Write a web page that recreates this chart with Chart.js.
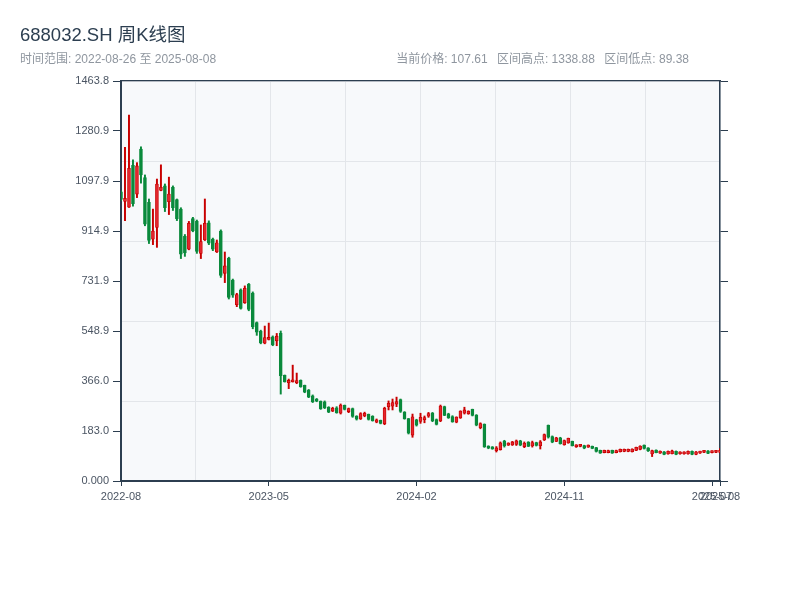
<!DOCTYPE html>
<html><head><meta charset="utf-8">
<script src="https://cdn.jsdelivr.net/npm/chart.js@4.4.1/dist/chart.umd.min.js"></script>
<style>
html,body{margin:0;padding:0;background:#fff;}
#wrap{position:relative;width:800px;height:600px;font-family:"Liberation Sans","Noto Sans CJK SC",sans-serif;}
#c{position:absolute;left:0;top:0;}
.t{position:absolute;left:20px;top:24px;font-size:18.5px;color:#2c3e50;line-height:22px;white-space:nowrap;}
.s{position:absolute;left:20px;top:52px;font-size:12px;color:#8f969f;line-height:15px;white-space:nowrap;}
.r{position:absolute;right:111px;top:52px;font-size:12px;color:#8f969f;line-height:15px;white-space:nowrap;}
.r span{margin-left:6px;}
</style></head>
<body>
<div id="wrap">
<canvas id="c" width="800" height="600"></canvas>
<div class="t">688032.SH 周K线图</div>
<div class="s">时间范围: 2022-08-26 至 2025-08-08</div>
<div class="r"><span>当前价格: 107.61</span> <span>区间高点: 1338.88</span> <span>区间低点: 89.38</span></div>
</div>
<script>
const dates = ['2022-08-26','2022-09-02','2022-09-09','2022-09-16','2022-09-23','2022-09-30','2022-10-14','2022-10-21','2022-10-28','2022-11-04','2022-11-11','2022-11-18','2022-11-25','2022-12-02','2022-12-09','2022-12-16','2022-12-23','2022-12-30',
'2023-01-06','2023-01-13','2023-01-20','2023-02-03','2023-02-10','2023-02-17','2023-02-24','2023-03-03','2023-03-10','2023-03-17','2023-03-24','2023-03-31','2023-04-07','2023-04-14','2023-04-21','2023-04-28','2023-05-05','2023-05-12','2023-05-19','2023-05-26',
'2023-06-02','2023-06-09','2023-06-16','2023-06-23','2023-06-30','2023-07-07','2023-07-14','2023-07-21','2023-07-28','2023-08-04','2023-08-11','2023-08-18','2023-08-25','2023-09-01','2023-09-08','2023-09-15','2023-09-22','2023-09-29','2023-10-13','2023-10-20','2023-10-27',
'2023-11-03','2023-11-10','2023-11-17','2023-11-24','2023-12-01','2023-12-08','2023-12-15','2023-12-22','2023-12-29',
'2024-01-05','2024-01-12','2024-01-19','2024-01-26','2024-02-02','2024-02-09','2024-02-23','2024-03-01','2024-03-08','2024-03-15','2024-03-22','2024-03-29','2024-04-05','2024-04-12','2024-04-19','2024-04-26',
'2024-05-03','2024-05-10','2024-05-17','2024-05-24','2024-05-31','2024-06-07','2024-06-14','2024-06-21','2024-06-28','2024-07-05','2024-07-12','2024-07-19','2024-07-26','2024-08-02','2024-08-09','2024-08-16','2024-08-23','2024-08-30',
'2024-09-06','2024-09-13','2024-09-20','2024-09-27','2024-10-04','2024-10-11','2024-10-18','2024-10-25','2024-11-01','2024-11-08','2024-11-15','2024-11-22','2024-11-29','2024-12-06','2024-12-13','2024-12-20','2024-12-27',
'2025-01-03','2025-01-10','2025-01-17','2025-01-24','2025-01-31','2025-02-07','2025-02-14','2025-02-21','2025-02-28','2025-03-07','2025-03-14','2025-03-21','2025-03-28','2025-04-04','2025-04-11','2025-04-18','2025-04-25',
'2025-05-02','2025-05-09','2025-05-16','2025-05-23','2025-05-30','2025-06-06','2025-06-13','2025-06-20','2025-06-27','2025-07-04','2025-07-11','2025-07-18','2025-07-25','2025-08-01','2025-08-08'];

const opens = [1058,1023,1002,1155,1050,1215,1110,1020,885,928, 1063,1080,1022,1075,1030,995,895,848,960,950, 833,882,945,885,838,915,760,815,735,645, 700,652,720,688,580,548,504,518,528,513, 540,387,360,363,360,368,350,333,312,300, 292,290,270,256,268,248,277,254,265,238, 227,238,244,237,215,222,210,272,274,281, 298,252,228,168,224,218,224,237,249,225, 220,272,246,236,215,231,248,246,262,241, 195,207,128,125,111,115,146,131,132,134, 147,126,142,128,141,129,150,204,163,145, 158,133,139,145,125,127,130,124,127,122, 112,104,104,112,104,107,108,108,107,112, 116,131,121,99,113,102,107,99,100,109, 99,99,99,109,97,102,105,110,104,105, 104.5];
const highs = [1062,1221,1338.88,1175,1165,1223,1120,1032,995,1105, 1157,1087,1112,1080,1032,1000,902,950,965,955, 937,1032,952,889,882,919,838,819,739,687, 703,714,723,692,582,552,567,578,531,540, 549,388,373,424,395,370,351,335,315,302, 293,293,272,270,272,282,278,267,267,239, 250,252,245,239,227,223,270,293,300,307, 300,254,229,245,226,248,238,251,251,227, 278,274,248,239,235,257,270,257,263,243, 213,209,129,126,126,143,149,140,145,150, 149,143,144,146,142,148,172,205,165,160, 160,150,157,146,133,132,131,132,128,123, 113,113,113,113,113,117,117,117,118,124, 129,132,122,113,114,110,108,110,113,110, 107,107,110,110,108,109,110,111,110,112, 119];
const lows = [1026,953,1001,1006,1037,1090,934,869,865,855, 1062,986,975,990,953,814,822,846,912,833, 814,880,865,843,836,745,726,666,672,638, 629,650,623,557,533,502,502,516,495,495, 318,362,338,362,356,343,323,305,287,290, 262,265,250,254,248,245,260,250,233,223, 225,235,223,219,213,209,206,260,260,272, 251,226,172,160,201,211,213,233,217,205, 217,239,229,215,213,229,245,244,238,202, 191,123,118,116,106,113,124,130,130,130, 129,122,126,124,128,117,148,157,140,144, 135,131,138,128,123,125,118,123,118,106, 101,103,103,101,103,106,107,107,106,111, 114,117,108,89.38,103,101,96,98,99,96, 98,98,98,96,96,101,104,100,103,104, 104];
const closes = [1030,1034,1144,1015,1153,1120,940,880,915,1087, 1075,1000,1050,1000,960,830,835,943,915,840, 876,943,870,848,872,752,787,672,680,682, 632,705,628,565,545,505,525,525,498,530, 385,363,368,370,367,345,325,307,290,292, 265,267,252,266,250,278,262,265,236,226, 247,248,225,221,224,211,266,284,287,291, 255,228,175,235,204,233,232,247,220,207, 274,240,232,216,234,256,260,255,240,204, 210,125,120,117,121,140,128,139,143,147, 131,138,127,141,130,143,170,160,142,158, 137,148,156,129,132,131,120,131,119,108, 102,112,111,102,111,116,116,116,117,123, 128,119,110,111,104,109,97,109,110,97, 107,107,109,97,107,109,110,101,110,112, 107.61];

const yTickValues = [0,182.975,365.95,548.925,731.9,914.875,1097.85,1280.825,1463.8];
const yTickLabels = ['0.000','183.0','366.0','548.9','731.9','914.9','1097.9','1280.9','1463.8'];
const xTickIndex = [0,37,74,111,148,150];

const UP_FILL = '#e3262d', UP_LINE = '#c80000', DOWN = '#0a8a3c';
const isUp = closes.map((c, i) => c >= opens[i]);
const bodyData = opens.map((o, i) => [o, closes[i]]);
const wickData = lows.map((l, i) => [l, highs[i]]);

const AXIS = '#2c3e50', GRID = '#e3e6ea', TICK_TXT = '#4b5563';

const bgPlugin = {
  id: 'plotBg',
  beforeDraw(chart) {
    const a = chart.chartArea, ctx = chart.ctx;
    ctx.save(); ctx.fillStyle = '#f7f9fb';
    ctx.fillRect(a.left, a.top, a.right - a.left, a.bottom - a.top);
    ctx.restore();
  }
};

const setYTicks = s => { s.ticks = yTickValues.map(v => ({ value: v })); };

new Chart(document.getElementById('c'), {
  type: 'bar',
  data: {
    labels: dates,
    datasets: [
      { label: 'body', data: bodyData, grouped: false, barThickness: 3, minBarLength: 2,
        backgroundColor: isUp.map(u => u ? UP_FILL : DOWN),
        borderColor: isUp.map(u => u ? UP_LINE : DOWN),
        borderWidth: 0.8, borderSkipped: false },
      { label: 'wick', data: wickData, grouped: false, barThickness: 1.3,
        backgroundColor: isUp.map(u => u ? UP_LINE : DOWN), borderWidth: 0 }
    ]
  },
  options: {
    responsive: false, animation: false,
    layout: { padding: 0 },
    plugins: { legend: { display: false }, tooltip: { enabled: false }, title: { display: false } },
    scales: {
      x: {
        type: 'category', position: 'bottom', offset: false,
        afterBuildTicks: s => { s.ticks = xTickIndex.map(v => ({ value: v })); },
        afterFit: s => { s.height = 119; },
        ticks: { autoSkip: false, maxRotation: 0, padding: 4, color: TICK_TXT,
          font: { size: 11, family: '"Liberation Sans",sans-serif' },
          callback: v => dates[v].slice(0, 7) },
        grid: { offset: false, drawOnChartArea: false, color: AXIS, tickLength: 5, tickWidth: 1 },
        border: { display: true, color: AXIS, width: 2 }
      },
      xg: {
        type: 'linear', position: 'top', min: 0, max: 8, offset: false,
        afterFit: s => { s.height = 81; },
        ticks: { display: false, stepSize: 1 },
        grid: { offset: false, color: GRID, lineWidth: 1, drawTicks: false },
        border: { display: true, color: AXIS, width: 1.2 }
      },
      y: {
        type: 'linear', position: 'left', min: 0, max: 1463.8,
        afterBuildTicks: setYTicks,
        afterFit: s => { s.width = 121; },
        ticks: { padding: 4, color: TICK_TXT, font: { size: 11, family: '"Liberation Sans",sans-serif' },
          callback: (v, i) => yTickLabels[i] },
        grid: { drawOnChartArea: false, color: AXIS, tickLength: 8, tickWidth: 1 },
        border: { display: true, color: AXIS, width: 2 }
      },
      yg: {
        type: 'linear', position: 'left', min: 0, max: 5,
        afterFit: s => { s.width = 0; },
        ticks: { display: false, stepSize: 1 },
        grid: { color: GRID, lineWidth: 1, drawTicks: false },
        border: { display: false }
      },
      y2: {
        type: 'linear', position: 'right', min: 0, max: 1463.8,
        afterBuildTicks: setYTicks,
        afterFit: s => { s.width = 80; },
        ticks: { display: false },
        grid: { drawOnChartArea: false, color: AXIS, tickLength: 8, tickWidth: 1 },
        border: { display: true, color: AXIS, width: 1.5 }
      }
    }
  },
  plugins: [bgPlugin]
});
</script>
</body></html>
